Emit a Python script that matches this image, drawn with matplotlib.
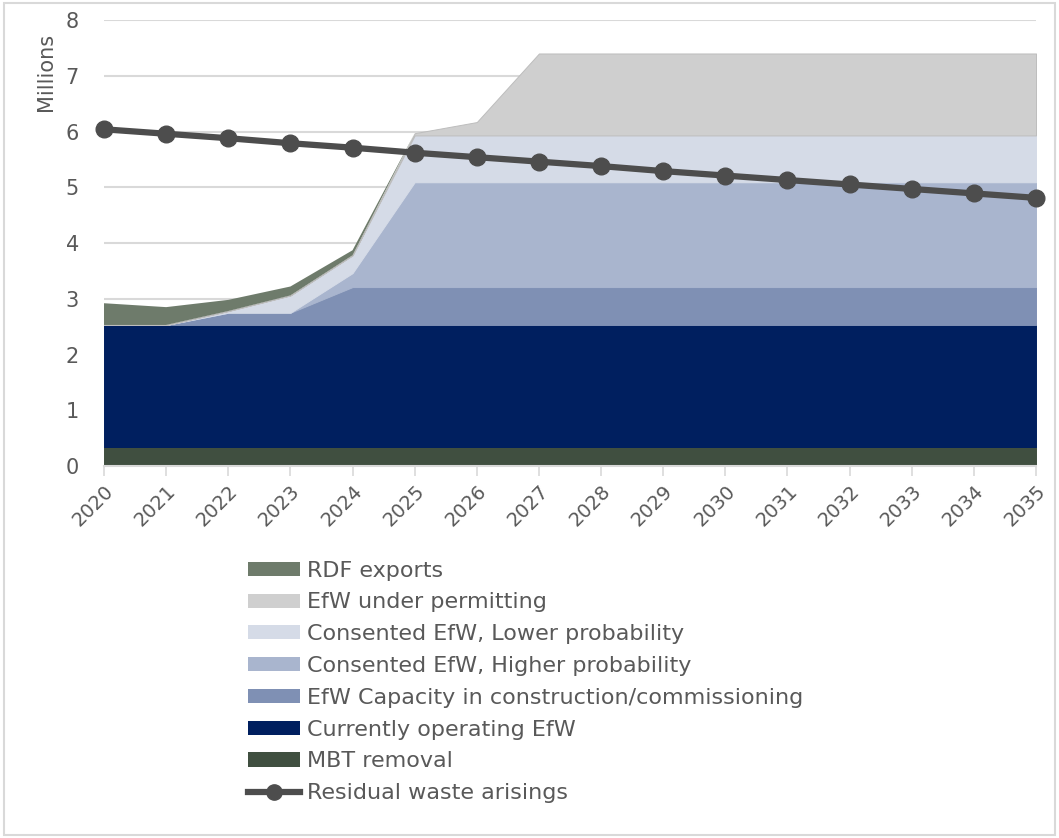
import matplotlib.pyplot as plt
from matplotlib.patches import Patch, Rectangle
from matplotlib.lines import Line2D

years = list(range(2020, 2036))

# capacity layers, million tonnes, bottom to top
mbt_removal = [0.35] * 16
operating_efw = [2.18] * 16
in_construction = [0.0, 0.0, 0.22, 0.22, 0.68, 0.68, 0.68, 0.68, 0.68, 0.68, 0.68, 0.68, 0.68, 0.68, 0.68, 0.68]
consented_higher = [0.0, 0.0, 0.0, 0.0, 0.25, 1.88, 1.88, 1.88, 1.88, 1.88, 1.88, 1.88, 1.88, 1.88, 1.88, 1.88]
consented_lower = [0.0, 0.0, 0.03, 0.31, 0.32, 0.84, 0.84, 0.84, 0.84, 0.84, 0.84, 0.84, 0.84, 0.84, 0.84, 0.84]
under_permitting = [0.0, 0.0, 0.0, 0.0, 0.0, 0.04, 0.24, 1.47, 1.47, 1.47, 1.47, 1.47, 1.47, 1.47, 1.47, 1.47]
rdf_exports = [0.39, 0.32, 0.20, 0.16, 0.09, 0.0, 0.0, 0.0, 0.0, 0.0, 0.0, 0.0, 0.0, 0.0, 0.0, 0.0]

residual_arisings = [6.04, 5.96, 5.88, 5.79, 5.71, 5.62, 5.54, 5.46, 5.38, 5.29, 5.21, 5.13, 5.05, 4.97, 4.89, 4.81]

layer_labels = [
    "MBT removal",
    "Currently operating EfW",
    "EfW Capacity in construction/commissioning",
    "Consented EfW, Higher probability",
    "Consented EfW, Lower probability",
    "EfW under permitting",
    "RDF exports",
]
layer_colors = ["#404f40", "#001f5f", "#7f90b4", "#a9b5ce", "#d5dbe7", "#cfcfcf", "#6e7b6b"]
edge_colors = ["#404f40", "#001f5f", "#7f90b4", "#a9b5ce", "#d5dbe7", "#bdbdbd", "none"]

text_grey = "#595959"
plt.rcParams['font.family'] = ['DejaVu Sans']

fig = plt.figure(figsize=(10.59, 8.38), dpi=100)
ax = fig.add_axes([0.0982, 0.4439, 0.8801, 0.5322])

ax.set_axisbelow(True)
ax.grid(axis='y', color='#d9d9d9', linewidth=1.5)
ax.grid(axis='x', visible=False)

layers = [mbt_removal, operating_efw, in_construction, consented_higher,
          consented_lower, under_permitting, rdf_exports]
polys = ax.stackplot(years, *layers, colors=layer_colors, linewidth=0.7, zorder=2)
for p, c in zip(polys, edge_colors):
    p.set_edgecolor(c)

ax.plot(years, residual_arisings, color='#4d4d4d', linewidth=4.5, marker='o',
        markersize=12, zorder=4, clip_on=False)

ax.set_xlim(2020, 2035)
ax.set_ylim(0, 8)
ax.set_xticks(years)
ax.set_xticklabels([str(y) for y in years], rotation=45, ha='right',
                   rotation_mode='anchor', fontsize=14, color=text_grey)
ax.set_yticks(range(9))
ax.set_yticklabels([str(v) for v in range(9)], fontsize=15, color=text_grey)
ax.tick_params(axis='y', length=0, pad=18)
ax.tick_params(axis='x', length=7, width=1.2, color='#d9d9d9', pad=4)

for side in ['top', 'right', 'left']:
    ax.spines[side].set_visible(False)
ax.spines['bottom'].set_color('#d9d9d9')
ax.spines['bottom'].set_linewidth(1.5)

fig.text(0.043, 0.914, "Millions", rotation=90, ha='center', va='center',
         fontsize=15, color=text_grey)

handles = [Patch(facecolor=c, edgecolor='none') for c in layer_colors][::-1]
labels = layer_labels[::-1]
handles.append(Line2D([], [], color='#4d4d4d', linewidth=4.5, marker='o', markersize=11))
labels.append("Residual waste arisings")
fig.legend(handles, labels, loc='upper left', bbox_to_anchor=(0.234, 0.331),
           frameon=False, fontsize=16, labelcolor=text_grey, handlelength=2.35,
           handleheight=0.6, handletextpad=0.3, labelspacing=0.53,
           borderpad=0, borderaxespad=0)

fig.add_artist(Rectangle((0.004, 0.004), 0.992, 0.992, transform=fig.transFigure,
                         fill=False, edgecolor='#d9d9d9', linewidth=1.5))

fig.savefig("out.png", dpi=100)
